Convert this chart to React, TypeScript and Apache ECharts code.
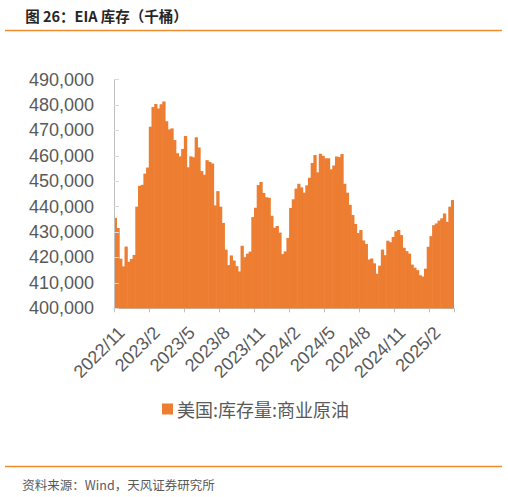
import React, { useEffect, useRef } from "react";
import * as echarts from "echarts";

// Weekly dates (EIA week ending)
const dates: string[] = [
  "2022-11-11", "2022-11-18", "2022-11-25", "2022-12-02", "2022-12-09", "2022-12-16", "2022-12-23", "2022-12-30",
  "2023-01-06", "2023-01-13", "2023-01-20", "2023-01-27", "2023-02-03", "2023-02-10", "2023-02-17", "2023-02-24",
  "2023-03-03", "2023-03-10", "2023-03-17", "2023-03-24", "2023-03-31", "2023-04-07", "2023-04-14", "2023-04-21",
  "2023-04-28", "2023-05-05", "2023-05-12", "2023-05-19", "2023-05-26", "2023-06-02", "2023-06-09", "2023-06-16",
  "2023-06-23", "2023-06-30", "2023-07-07", "2023-07-14", "2023-07-21", "2023-07-28", "2023-08-04", "2023-08-11",
  "2023-08-18", "2023-08-25", "2023-09-01", "2023-09-08", "2023-09-15", "2023-09-22", "2023-09-29", "2023-10-06",
  "2023-10-13", "2023-10-20", "2023-10-27", "2023-11-03", "2023-11-10", "2023-11-17", "2023-11-24", "2023-12-01",
  "2023-12-08", "2023-12-15", "2023-12-22", "2023-12-29",
  "2024-01-05", "2024-01-12", "2024-01-19", "2024-01-26", "2024-02-02", "2024-02-09", "2024-02-16", "2024-02-23",
  "2024-03-01", "2024-03-08", "2024-03-15", "2024-03-22", "2024-03-29", "2024-04-05", "2024-04-12", "2024-04-19",
  "2024-04-26", "2024-05-03", "2024-05-10", "2024-05-17", "2024-05-24", "2024-05-31", "2024-06-07", "2024-06-14",
  "2024-06-21", "2024-06-28", "2024-07-05", "2024-07-12", "2024-07-19", "2024-07-26", "2024-08-02", "2024-08-09",
  "2024-08-16", "2024-08-23", "2024-08-30", "2024-09-06", "2024-09-13", "2024-09-20", "2024-09-27", "2024-10-04",
  "2024-10-11", "2024-10-18", "2024-10-25", "2024-11-01", "2024-11-08", "2024-11-15", "2024-11-22", "2024-11-29",
  "2024-12-06", "2024-12-13", "2024-12-20", "2024-12-27",
  "2025-01-03", "2025-01-10", "2025-01-17", "2025-01-24", "2025-01-31", "2025-02-07", "2025-02-14", "2025-02-21",
  "2025-02-28", "2025-03-07", "2025-03-14", "2025-03-21", "2025-03-28", "2025-04-04",
];

// 美国:库存量:商业原油 (千桶)
const stocks: number[] = [
  435600, 431600, 419500, 416500, 424300, 418300, 419400, 421000,
  440000, 448200, 448600, 453000, 455400, 471400, 479200, 480400,
  478600, 480300, 481400, 473600, 470400, 470800, 466200, 461000,
  459800, 462700, 467800, 455500, 459800, 459400, 467300, 463300,
  454000, 452600, 458300, 457600, 457000, 440500, 446100, 440000,
  433600, 423100, 417000, 420800, 418800, 416600, 414500, 424600,
  420100, 421500, 422300, 435900, 439600, 448500, 449700, 445400,
  443700, 443500, 436400, 431700,
  432400, 429800, 421300, 422400, 427700, 439500, 442900, 447100,
  449000, 447600, 445500, 448400, 451400, 457200, 460300, 453500,
  460800, 460000, 459000, 459000, 454700, 456200, 459700, 459500,
  460700, 449000, 445500, 440700, 436700, 433200, 429600, 430800,
  426700, 425300, 419200, 419600, 417700, 413600, 416800, 423100,
  420900, 426600, 426000, 428100, 430300, 430800, 428800, 423800,
  422500, 421500, 417200, 416000,
  415000, 413000, 412500, 415600, 424200, 428400, 432700, 433400,
  434500, 435400, 437300, 434000, 440000, 442600,
];

const seriesName = "美国:库存量:商业原油";
const titleText = "图 26：EIA 库存（千桶）";
const sourceText = "资料来源：Wind，天风证券研究所";
const yMin = 400000;
const yMax = 490000;
const yStep = 10000;
const labelEvery = 12; // every 13th week (quarterly)

const fmtThousands = (v: number) => String(v).replace(/\B(?=(\d{3})+(?!\d))/g, ",");
const fmtMonth = (v: string) => {
  const [y, m] = v.split("-");
  return `${y}/${parseInt(m, 10)}`;
};

export default function App() {
  const ref = useRef<HTMLDivElement>(null);

  useEffect(() => {
    if (!ref.current) return;
    const chart = echarts.init(ref.current, undefined, { renderer: "svg" });
    const orange = "#ED7D31";
    const rule = "#F08C2E";
    const axisGrey = "#BFBFBF";
    const textGrey = "#595959";
    const cjk = "Noto Sans CJK SC";
    const latin = "Liberation Sans";

    chart.setOption({
      animation: false,
      backgroundColor: "#ffffff",
      grid: { left: 114, right: 54, top: 79.6, bottom: 188.7, containLabel: false },
      legend: {
        data: [seriesName],
        left: 162,
        top: 400,
        padding: 0,
        itemWidth: 11,
        itemHeight: 11,
        itemGap: 10,
        icon: "rect",
        textStyle: { fontSize: 18, color: textGrey, fontFamily: cjk, padding: [0, 0, 0, -1] },
      },
      xAxis: {
        type: "category",
        data: dates,
        boundaryGap: true,
        axisLine: { lineStyle: { color: axisGrey, width: 1 } },
        axisTick: { show: true, interval: labelEvery, length: 4, lineStyle: { color: axisGrey } },
        axisLabel: {
          interval: labelEvery,
          rotate: 45,
          margin: 15,
          verticalAlign: "top",
          formatter: fmtMonth,
          fontSize: 18,
          color: textGrey,
          fontFamily: latin,
        },
        splitLine: { show: false },
      },
      yAxis: {
        type: "value",
        min: yMin,
        max: yMax,
        interval: yStep,
        z: 5,
        axisLine: { show: true, lineStyle: { color: axisGrey, width: 1 } },
        axisTick: { show: true, inside: true, length: 5, lineStyle: { color: "#D9D9D9" } },
        axisLabel: {
          margin: 20,
          fontSize: 18,
          color: textGrey,
          fontFamily: latin,
          formatter: (v: number) => fmtThousands(v),
        },
        splitLine: { show: false },
      },
      series: [
        {
          name: seriesName,
          type: "bar",
          data: stocks,
          barWidth: 3.3,
          itemStyle: { color: orange },
        },
      ],
      graphic: {
        elements: [
          {
            type: "text",
            x: 106.5,
            y: 15.5,
            style: {
              text: titleText,
              fontSize: 14.5,
              fontWeight: "bold",
              fontFamily: cjk,
              fill: "#262626",
              align: "center",
              verticalAlign: "middle",
            },
          },
          {
            type: "line",
            shape: { x1: 5, y1: 30.5, x2: 502, y2: 30.5 },
            style: { stroke: rule, lineWidth: 1.5 },
          },
          {
            type: "line",
            shape: { x1: 5, y1: 466.5, x2: 502, y2: 466.5 },
            style: { stroke: rule, lineWidth: 1.5 },
          },
          {
            type: "text",
            x: 118.5,
            y: 484,
            style: {
              text: sourceText,
              fontSize: 12.5,
              fontFamily: cjk,
              fill: textGrey,
              align: "center",
              verticalAlign: "middle",
            },
          },
        ],
      },
    });

    return () => chart.dispose();
  }, []);

  return (
    <div
      ref={ref}
      style={{ position: "absolute", left: 0, top: 0, width: 508, height: 497 }}
    />
  );
}
